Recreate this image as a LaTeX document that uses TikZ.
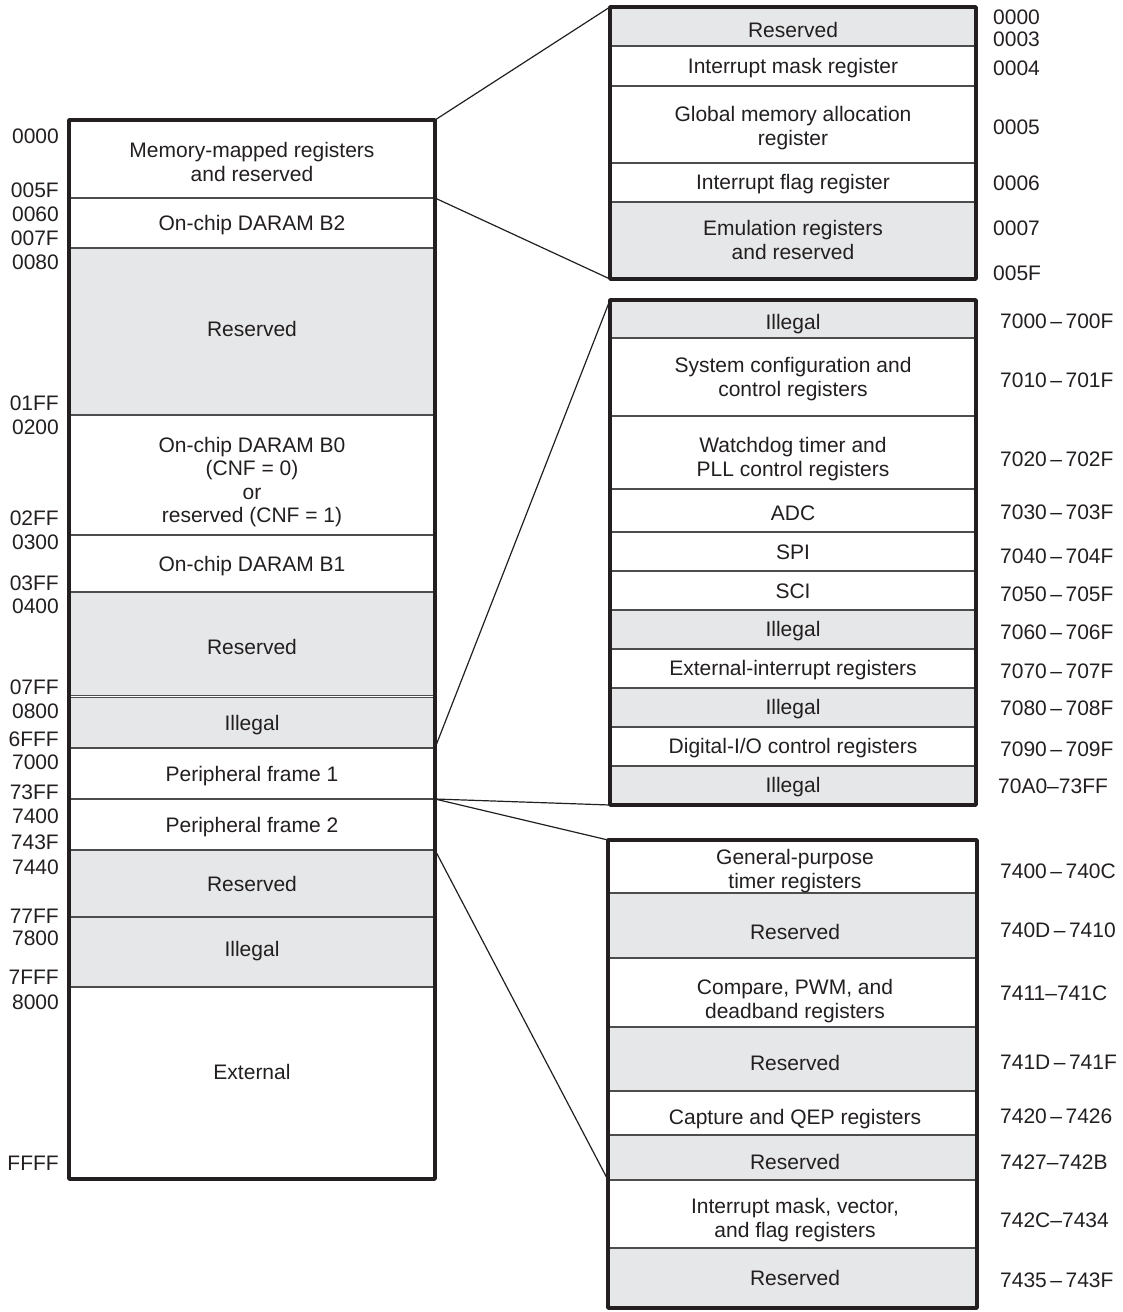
\documentclass[tikz,border=0pt]{standalone}
\usepackage{fontspec}
\setmainfont{Liberation Sans}
\definecolor{resgray}{HTML}{E6E7E8}
\definecolor{boxblack}{HTML}{231F20}
\definecolor{linegray}{HTML}{4D4D4D}
\newcommand\mcell[6]{%
  \node[#6, anchor=north west, minimum width={#4pt-#2pt}, minimum height={#5pt-#3pt}] (#1) at (#2,#3) {};}
\tikzset{
  cellw/.style={draw=linegray, line width=1.4pt, fill=white, inner sep=0pt, outer sep=0pt},
  cellg/.style={cellw, fill=resgray},
  outerbox/.style={draw=boxblack, line width=3.6pt, line join=round},
  txt/.style={font=\fontsize{21}{23.5}\selectfont, align=center, inner sep=0pt, text=boxblack},
  addrl/.style={font=\fontsize{21}{23.5}\selectfont, anchor=east, inner sep=0pt, text=boxblack},
  addrr/.style={font=\fontsize{21}{23.5}\selectfont, anchor=west, inner sep=0pt, text=boxblack},
  conn/.style={draw=boxblack, line width=1.2pt}
}
\begin{document}
\begin{tikzpicture}[x=1pt,y=-1pt]
\useasboundingbox (0,0) rectangle (1123,1312);
% ---------- left memory map ----------
\mcell{mmr}{69}{120}{435}{198}{cellw}
\mcell{bb2}{69}{198}{435}{248}{cellw}
\mcell{res1}{69}{248}{435}{415}{cellg}
\mcell{bb0}{69}{415}{435}{535}{cellw}
\mcell{bb1}{69}{535}{435}{592}{cellw}
\mcell{res2}{69}{592}{435}{695.5}{cellg}
\mcell{ill1}{69}{697.5}{435}{748}{cellg}
\mcell{pf1}{69}{748}{435}{799}{cellw}
\mcell{pf2}{69}{799}{435}{850}{cellw}
\mcell{res3}{69}{850}{435}{917}{cellg}
\mcell{ill2}{69}{917}{435}{987}{cellg}
\mcell{ext}{69}{987}{435}{1179}{cellw}
\draw[outerbox] (mmr.north west) rectangle (ext.south east);
\node[txt] (tmmr) at (252,162) {Memory-mapped registers\\and reserved};
\node[txt] (tbb2) at (252,225) {On-chip DARAM B2};
\node[txt] (tres1) at (252,329) {Reserved};
\node[txt] (tbb0) at (252,482) {On-chip DARAM B0\\(CNF = 0)\\or\\reserved (CNF = 1)};
\node[txt] (tbb1) at (252,566) {On-chip DARAM B1};
\node[txt] (tres2) at (252,647) {Reserved};
\node[txt] (till1) at (252,725) {Illegal};
\node[txt] (tpf1) at (252,776) {Peripheral frame 1};
\node[txt] (tpf2) at (252,827) {Peripheral frame 2};
\node[txt] (tres3) at (252,884) {Reserved};
\node[txt] (till2) at (252,951) {Illegal};
\node[txt] (text) at (252,1072) {External};
% left addresses
\node[addrl] (a1) at (59,136) {0000};
\node[addrl] (a2) at (59,190) {005F};
\node[addrl] (a3) at (59,214) {0060};
\node[addrl] (a4) at (59,238) {007F};
\node[addrl] (a5) at (59,262) {0080};
\node[addrl] (a6) at (59,403) {01FF};
\node[addrl] (a7) at (59,427) {0200};
\node[addrl] (a8) at (59,518) {02FF};
\node[addrl] (a9) at (59,542) {0300};
\node[addrl] (a10) at (59,583) {03FF};
\node[addrl] (a11) at (59,606) {0400};
\node[addrl] (a12) at (59,687) {07FF};
\node[addrl] (a13) at (59,711) {0800};
\node[addrl] (a14) at (59,739) {6FFF};
\node[addrl] (a15) at (59,762) {7000};
\node[addrl] (a16) at (59,792) {73FF};
\node[addrl] (a17) at (59,816) {7400};
\node[addrl] (a18) at (59,842) {743F};
\node[addrl] (a19) at (59,867) {7440};
\node[addrl] (a20) at (59,916) {77FF};
\node[addrl] (a21) at (59,938) {7800};
\node[addrl] (a22) at (59,977) {7FFF};
\node[addrl] (a23) at (59,1002) {8000};
\node[addrl] (a24) at (59,1163) {FFFF};
% ---------- top right box ----------
\mcell{t1}{610}{7}{976}{46}{cellg}
\mcell{t2}{610}{46}{976}{86}{cellw}
\mcell{t3}{610}{86}{976}{163}{cellw}
\mcell{t4}{610}{163}{976}{202}{cellw}
\mcell{t5}{610}{202}{976}{279}{cellg}
\draw[outerbox] (t1.north west) rectangle (t5.south east);
\node[txt] (tt1) at (793,30) {Reserved};
\node[txt] (tt2) at (793,68) {Interrupt mask register};
\node[txt] (tt3) at (793,128) {Global memory allocation\\register};
\node[txt] (tt4) at (793,184) {Interrupt flag register};
\node[txt] (tt5) at (793,240) {Emulation registers\\and reserved};
\node[addrr] (r1) at (993,17) {0000};
\node[addrr] (r2) at (993,39) {0003};
\node[addrr] (r3) at (993,68) {0004};
\node[addrr] (r4) at (993,127) {0005};
\node[addrr] (r5) at (993,183) {0006};
\node[addrr] (r6) at (993,228) {0007};
\node[addrr] (r7) at (993,273) {005F};
% ---------- middle right box ----------
\mcell{m1}{610}{300}{976}{338}{cellg}
\mcell{m2}{610}{338}{976}{416}{cellw}
\mcell{m3}{610}{416}{976}{489}{cellw}
\mcell{m4}{610}{489}{976}{532}{cellw}
\mcell{m5}{610}{532}{976}{571}{cellw}
\mcell{m6}{610}{571}{976}{610}{cellw}
\mcell{m7}{610}{610}{976}{649}{cellg}
\mcell{m8}{610}{649}{976}{688}{cellw}
\mcell{m9}{610}{688}{976}{727}{cellg}
\mcell{m10}{610}{727}{976}{766}{cellw}
\mcell{m11}{610}{766}{976}{805}{cellg}
\draw[outerbox] (m1.north west) rectangle (m11.south east);
\node[txt] (tm1) at (793,324) {Illegal};
\node[txt] (tm2) at (793,379) {System configuration and\\control registers};
\node[txt] (tm3) at (793,459) {Watchdog timer and\\PLL control registers};
\node[txt] (tm4) at (793,513) {ADC};
\node[txt] (tm5) at (793,552) {SPI};
\node[txt] (tm6) at (793,591) {SCI};
\node[txt] (tm7) at (793,631) {Illegal};
\node[txt] (tm8) at (793,670) {External-interrupt registers};
\node[txt] (tm9) at (793,709) {Illegal};
\node[txt] (tm10) at (793,748) {Digital-I/O control registers};
\node[txt] (tm11) at (793,787) {Illegal};
\node[addrr] (s1) at (1000,321) {7000\,–\,700F};
\node[addrr] (s2) at (1000,380) {7010\,–\,701F};
\node[addrr] (s3) at (1000,459) {7020\,–\,702F};
\node[addrr] (s4) at (1000,512) {7030\,–\,703F};
\node[addrr] (s5) at (1000,556) {7040\,–\,704F};
\node[addrr] (s6) at (1000,594) {7050\,–\,705F};
\node[addrr] (s7) at (1000,632) {7060\,–\,706F};
\node[addrr] (s8) at (1000,671) {7070\,–\,707F};
\node[addrr] (s9) at (1000,708) {7080\,–\,708F};
\node[addrr] (s10) at (1000,749) {7090\,–\,709F};
\node[addrr] (s11) at (998,786) {70A0–73FF};
% ---------- bottom right box ----------
\mcell{b1}{608}{840}{977}{893}{cellw}
\mcell{b2}{608}{893}{977}{958}{cellg}
\mcell{b3}{608}{958}{977}{1027}{cellw}
\mcell{b4}{608}{1027}{977}{1091}{cellg}
\mcell{b5}{608}{1091}{977}{1135}{cellw}
\mcell{b6}{608}{1135}{977}{1180}{cellg}
\mcell{b7}{608}{1180}{977}{1248}{cellw}
\mcell{b8}{608}{1248}{977}{1308}{cellg}
\draw[outerbox] (b1.north west) rectangle (b8.south east);
\node[txt] (tb1) at (795,871) {General-purpose\\timer registers};
\node[txt] (tb2) at (795,932) {Reserved};
\node[txt] (tb3) at (795,1001) {Compare, PWM, and\\deadband registers};
\node[txt] (tb4) at (795,1063) {Reserved};
\node[txt] (tb5) at (795,1119) {Capture and QEP registers};
\node[txt] (tb6) at (795,1162) {Reserved};
\node[txt] (tb7) at (795,1220) {Interrupt mask, vector,\\and flag registers};
\node[txt] (tb8) at (795,1278) {Reserved};
\node[addrr] (u1) at (1000,871) {7400\,–\,740C};
\node[addrr] (u2) at (1000,930) {740D\,–\,7410};
\node[addrr] (u3) at (1000,993) {7411–741C};
\node[addrr] (u4) at (1000,1062) {741D\,–\,741F};
\node[addrr] (u5) at (1000,1116) {7420\,–\,7426};
\node[addrr] (u6) at (1000,1162) {7427–742B};
\node[addrr] (u7) at (1000,1220) {742C–7434};
\node[addrr] (u8) at (1000,1280) {7435\,–\,743F};
% ---------- connectors ----------
\draw[conn] (mmr.north east) -- (t1.north west);
\draw[conn] (mmr.south east) -- (t5.south west);
\draw[conn] (ill1.south east) -- (m1.north west);
\draw[conn] (pf1.south east) -- (m11.south west);
\draw[conn] (pf2.north east) -- (b1.north west);
\draw[conn] (pf2.south east) -- (b6.south west);
\end{tikzpicture}
\end{document}
